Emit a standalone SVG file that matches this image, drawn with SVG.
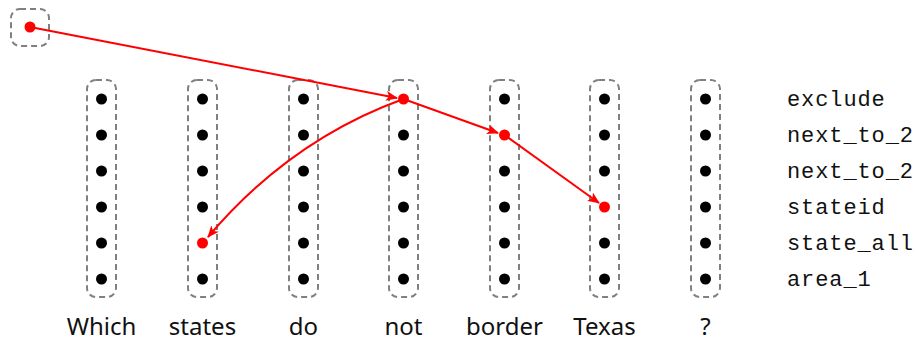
<svg xmlns="http://www.w3.org/2000/svg" width="917" height="343" viewBox="0 0 917 343">
  <defs>
    <style>
      .box { fill: none; stroke: #808080; stroke-width: 2; stroke-dasharray: 6 4; }
      .dot { fill: #000; }
      .hot { fill: #ff0000; }
      .edge { fill: none; stroke: #ff0000; stroke-width: 2; }
      .word { font-family: "Noto Sans", "Open Sans", sans-serif; font-size: 24px; fill: #111; text-anchor: middle; }
      .rel { font-family: "Liberation Mono", "DejaVu Sans Mono", monospace; font-size: 22px; letter-spacing: 0.9px; fill: #111; }
    </style>
    <marker id="head" viewBox="0 0 12 10" refX="11" refY="5" markerWidth="12" markerHeight="10" markerUnits="userSpaceOnUse" orient="auto">
      <path d="M0,0 L12,5 L0,10 L3,5 Z" fill="#ff0000"/>
    </marker>
  </defs>
  <rect width="917" height="343" fill="#fff"/>

  <!-- root -->
  <g id="root">
    <rect class="box" x="11" y="9" width="38" height="37" rx="9"/>
    <circle class="hot" cx="30" cy="27" r="5.5"/>
  </g>

  <!-- token columns -->
  <g id="col-which">
    <rect class="box" x="87" y="80" width="29" height="217" rx="9"/>
    <circle class="dot" cx="101.5" cy="99" r="5.5"/><circle class="dot" cx="101.5" cy="135" r="5.5"/><circle class="dot" cx="101.5" cy="171" r="5.5"/>
    <circle class="dot" cx="101.5" cy="207" r="5.5"/><circle class="dot" cx="101.5" cy="243" r="5.5"/><circle class="dot" cx="101.5" cy="279" r="5.5"/>
    <text class="word" x="101.5" y="335">Which</text>
  </g>
  <g id="col-states">
    <rect class="box" x="188" y="80" width="29" height="217" rx="9"/>
    <circle class="dot" cx="202.5" cy="99" r="5.5"/><circle class="dot" cx="202.5" cy="135" r="5.5"/><circle class="dot" cx="202.5" cy="171" r="5.5"/>
    <circle class="dot" cx="202.5" cy="207" r="5.5"/><circle class="hot" cx="202.5" cy="243" r="5.5"/><circle class="dot" cx="202.5" cy="279" r="5.5"/>
    <text class="word" x="202.5" y="335">states</text>
  </g>
  <g id="col-do">
    <rect class="box" x="289" y="80" width="29" height="217" rx="9"/>
    <circle class="dot" cx="303.5" cy="99" r="5.5"/><circle class="dot" cx="303.5" cy="135" r="5.5"/><circle class="dot" cx="303.5" cy="171" r="5.5"/>
    <circle class="dot" cx="303.5" cy="207" r="5.5"/><circle class="dot" cx="303.5" cy="243" r="5.5"/><circle class="dot" cx="303.5" cy="279" r="5.5"/>
    <text class="word" x="303.5" y="335">do</text>
  </g>
  <g id="col-not">
    <rect class="box" x="389" y="80" width="29" height="217" rx="9"/>
    <circle class="hot" cx="403.5" cy="99" r="5.5"/><circle class="dot" cx="403.5" cy="135" r="5.5"/><circle class="dot" cx="403.5" cy="171" r="5.5"/>
    <circle class="dot" cx="403.5" cy="207" r="5.5"/><circle class="dot" cx="403.5" cy="243" r="5.5"/><circle class="dot" cx="403.5" cy="279" r="5.5"/>
    <text class="word" x="403.5" y="335">not</text>
  </g>
  <g id="col-border">
    <rect class="box" x="490" y="80" width="29" height="217" rx="9"/>
    <circle class="dot" cx="504.5" cy="99" r="5.5"/><circle class="hot" cx="504.5" cy="135" r="5.5"/><circle class="dot" cx="504.5" cy="171" r="5.5"/>
    <circle class="dot" cx="504.5" cy="207" r="5.5"/><circle class="dot" cx="504.5" cy="243" r="5.5"/><circle class="dot" cx="504.5" cy="279" r="5.5"/>
    <text class="word" x="504.5" y="335">border</text>
  </g>
  <g id="col-texas">
    <rect class="box" x="590" y="80" width="29" height="217" rx="9"/>
    <circle class="dot" cx="604.5" cy="99" r="5.5"/><circle class="dot" cx="604.5" cy="135" r="5.5"/><circle class="dot" cx="604.5" cy="171" r="5.5"/>
    <circle class="hot" cx="604.5" cy="207" r="5.5"/><circle class="dot" cx="604.5" cy="243" r="5.5"/><circle class="dot" cx="604.5" cy="279" r="5.5"/>
    <text class="word" x="604.5" y="335">Texas</text>
  </g>
  <g id="col-q">
    <rect class="box" x="691" y="80" width="29" height="217" rx="9"/>
    <circle class="dot" cx="705.5" cy="99" r="5.5"/><circle class="dot" cx="705.5" cy="135" r="5.5"/><circle class="dot" cx="705.5" cy="171" r="5.5"/>
    <circle class="dot" cx="705.5" cy="207" r="5.5"/><circle class="dot" cx="705.5" cy="243" r="5.5"/><circle class="dot" cx="705.5" cy="279" r="5.5"/>
    <text class="word" x="705.5" y="335">?</text>
  </g>

  <!-- row labels -->
  <g id="labels">
    <text class="rel" x="787" y="106">exclude</text>
    <text class="rel" x="787" y="142">next_to_2</text>
    <text class="rel" x="787" y="178">next_to_2</text>
    <text class="rel" x="787" y="214">stateid</text>
    <text class="rel" x="787" y="250">state_all</text>
    <text class="rel" x="787" y="286">area_1</text>
  </g>

  <!-- connectors -->
  <g id="edges">
    <path class="edge" d="M30,27 L397,98" marker-end="url(#head)"/>
    <path class="edge" d="M403.5,99 Q290,140 208,237" marker-end="url(#head)"/>
    <path class="edge" d="M403.5,99 L498,133" marker-end="url(#head)"/>
    <path class="edge" d="M504.5,135 L599,203" marker-end="url(#head)"/>
  </g>
</svg>
